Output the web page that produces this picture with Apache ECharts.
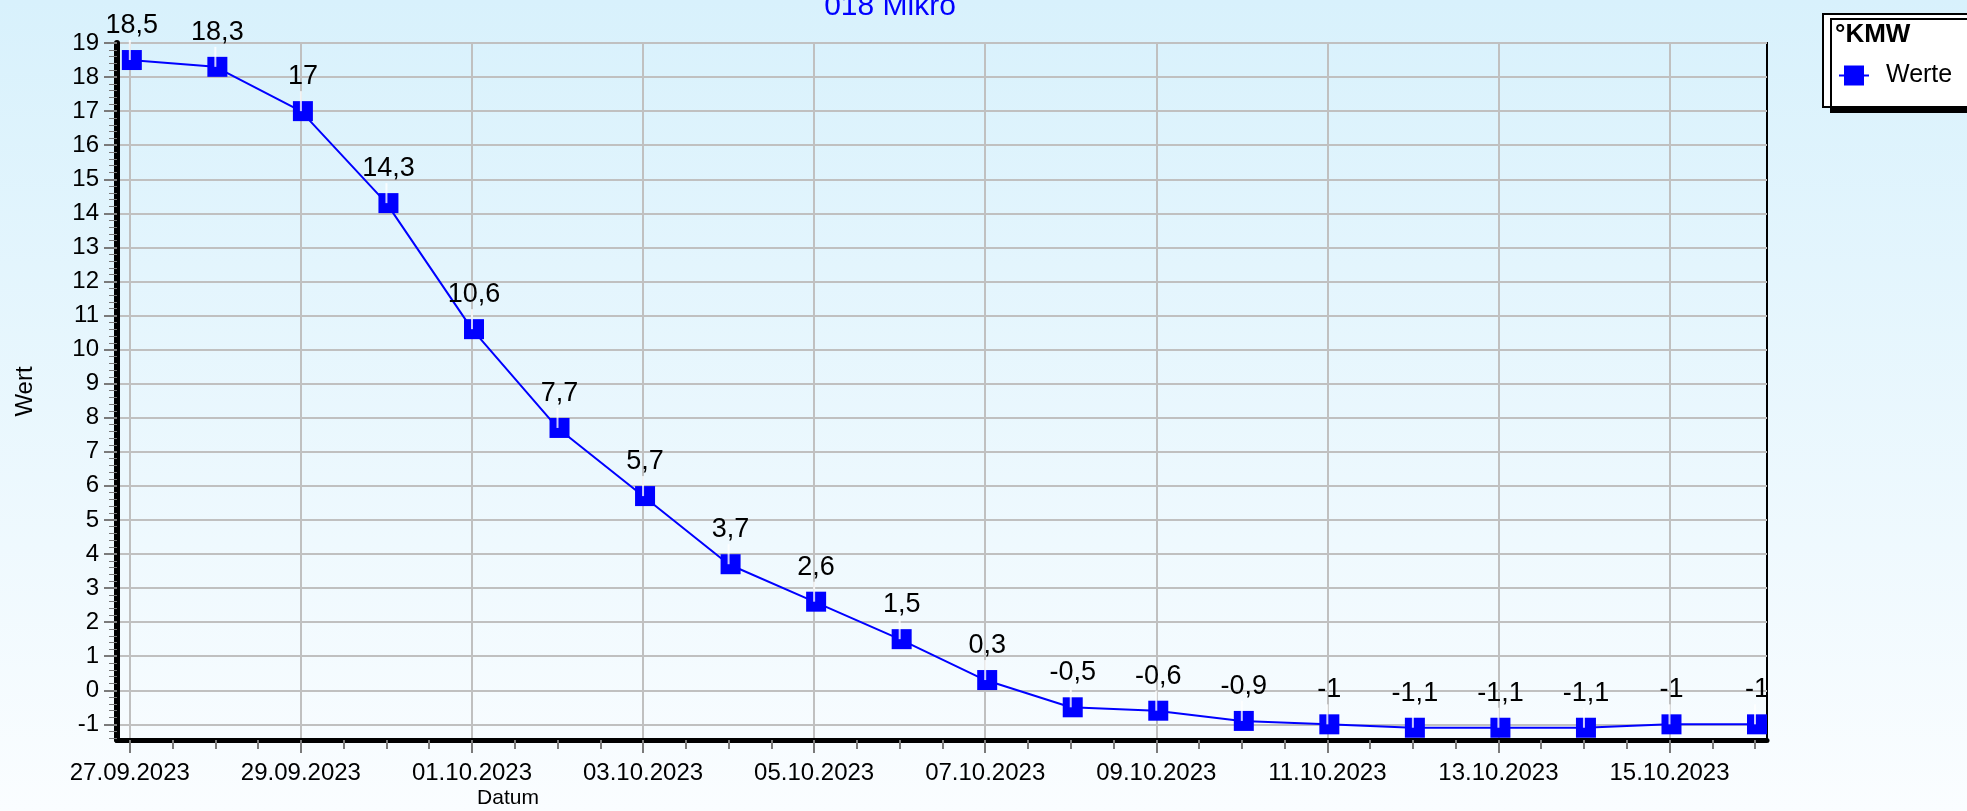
<!DOCTYPE html>
<html>
<head>
<meta charset="utf-8">
<script src="https://cdn.jsdelivr.net/npm/echarts@6/dist/echarts.min.js"></script>
<style>
  html, body { margin: 0; padding: 0; }
  #chart { width: 1967px; height: 811px; }
</style>
</head>
<body>
<div id="chart"></div>
<script>
// Messwerte pro Tag
const dates = [
  '27.09.2023', '28.09.2023', '29.09.2023', '30.09.2023', '01.10.2023',
  '02.10.2023', '03.10.2023', '04.10.2023', '05.10.2023', '06.10.2023',
  '07.10.2023', '08.10.2023', '09.10.2023', '10.10.2023', '11.10.2023',
  '12.10.2023', '13.10.2023', '14.10.2023', '15.10.2023', '16.10.2023'
];
const werte = [18.5, 18.3, 17, 14.3, 10.6, 7.7, 5.7, 3.7, 2.6, 1.5, 0.3, -0.5, -0.6, -0.9, -1, -1.1, -1.1, -1.1, -1, -1];

// Achsenbeschriftung
const xLabelDays = [0, 2, 4, 6, 8, 10, 12, 14, 16, 18];
const yLabels = [-1, 0, 1, 2, 3, 4, 5, 6, 7, 8, 9, 10, 11, 12, 13, 14, 15, 16, 17, 18, 19];

const font = '"Liberation Sans", Arial, sans-serif';
const blue = '#0000ff';
const tickColor = '#7a7a7a';
const gridColor = '#c0c0c0';

const xMin = -0.15, xMax = 19.14;
const yMin = -1.46, yMax = 19;

// Zwischenstriche: halbe Tage bzw. 0,2er Schritte
const minorX = [];
for (let d = 0; d <= dates.length - 1; d += 0.5) minorX.push(d);
const minorY = [];
for (let k = -7; k <= 95; k++) minorY.push(+(k * 0.2).toFixed(1));

const points = werte.map((v, i) => [i, v]);

const chart = echarts.init(document.getElementById('chart'));

const option = {
  backgroundColor: new echarts.graphic.LinearGradient(0, 0, 0, 1, [
    { offset: 0, color: '#d8f1fc' },
    { offset: 1, color: '#fafdff' }
  ]),
  animation: false,
  grid: {
    left: 117, top: 43, width: 1650, height: 697,
    show: true, borderColor: '#000', borderWidth: 2,
    backgroundColor: 'transparent'
  },
  legend: {
    data: ['Werte'],
    left: 1838, top: 63,
    padding: 0,
    itemWidth: 30, itemHeight: 25,
    z: 20,
    textStyle: { fontFamily: font, fontSize: 25, color: '#000', padding: [0, 0, 0, 12] }
  },
  graphic: [
    {
      type: 'text', x: 890, y: -8,
      style: { text: '018 Mikro', fill: blue, font: '30px ' + font, textAlign: 'center' }
    },
    {
      type: 'text', x: 508, y: 798,
      style: { text: 'Datum', fill: '#000', font: '21px ' + font, textAlign: 'center', textVerticalAlign: 'middle' }
    },
    {
      type: 'rect', z: 10,
      shape: { x: 1823, y: 14, width: 200, height: 93 },
      style: { fill: '#fff', stroke: '#000', lineWidth: 2, shadowColor: '#000', shadowOffsetX: 8, shadowOffsetY: 5, shadowBlur: 0 }
    },
    {
      type: 'text', z: 11, x: 1835, y: 35,
      style: { text: '°KMW', fill: '#000', font: 'bold 26px ' + font, textVerticalAlign: 'middle' }
    }
  ],
  xAxis: [
    {
      type: 'value', min: xMin, max: xMax, position: 'bottom',
      axisLine: { show: true, onZero: false, lineStyle: { color: '#000', width: 5 } },
      axisTick: { show: true, customValues: xLabelDays, length: 13, lineStyle: { color: tickColor, width: 2 } },
      axisLabel: {
        customValues: xLabelDays,
        formatter: v => dates[Math.round(v)],
        color: '#000', fontFamily: font, fontSize: 24, margin: 21
      },
      splitLine: { show: true, lineStyle: { color: gridColor, width: 2 } }
    },
    {
      type: 'value', min: xMin, max: xMax, position: 'bottom',
      axisLine: { show: false, onZero: false },
      axisTick: { show: true, customValues: minorX, length: 9, lineStyle: { color: tickColor, width: 2 } },
      axisLabel: { show: false },
      splitLine: { show: false }
    }
  ],
  yAxis: [
    {
      type: 'value', min: yMin, max: yMax, position: 'left',
      name: 'Wert', nameLocation: 'middle', nameGap: 80,
      nameTextStyle: { fontFamily: font, fontSize: 24, color: '#000' },
      axisLine: { show: true, onZero: false, lineStyle: { color: '#000', width: 6 } },
      axisTick: { show: true, customValues: yLabels, length: 13, lineStyle: { color: tickColor, width: 2 } },
      axisLabel: {
        customValues: yLabels,
        color: '#000', fontFamily: font, fontSize: 24, margin: 18
      },
      splitLine: { show: true, lineStyle: { color: gridColor, width: 2 } }
    },
    {
      type: 'value', min: yMin, max: yMax, position: 'left',
      axisLine: { show: false, onZero: false },
      axisTick: { show: true, customValues: minorY, length: 8, lineStyle: { color: tickColor, width: 1 } },
      axisLabel: { show: false },
      splitLine: { show: false }
    }
  ],
  series: [
    {
      name: 'Werte',
      type: 'line',
      data: points,
      xAxisIndex: 0, yAxisIndex: 0,
      symbol: 'rect',
      symbolSize: [20, 20],
      symbolOffset: [2, 0],
      showAllSymbol: true,
      lineStyle: { color: blue, width: 2 },
      itemStyle: { color: blue },
      label: {
        show: true, position: 'top', distance: 11,
        formatter: p => String(p.value[1]).replace('.', ','),
        color: '#000', fontFamily: font, fontSize: 27
      },
      z: 3
    },
    {
      // weisse Markierung am Messpunkt
      name: 'Kerbe',
      type: 'scatter',
      data: points,
      xAxisIndex: 0, yAxisIndex: 0,
      symbol: 'rect',
      symbolSize: [2, 20],
      symbolOffset: [0, -10],
      itemStyle: { color: '#fff' },
      silent: true,
      z: 4
    }
  ]
};

chart.setOption(option);
</script>
</body>
</html>
